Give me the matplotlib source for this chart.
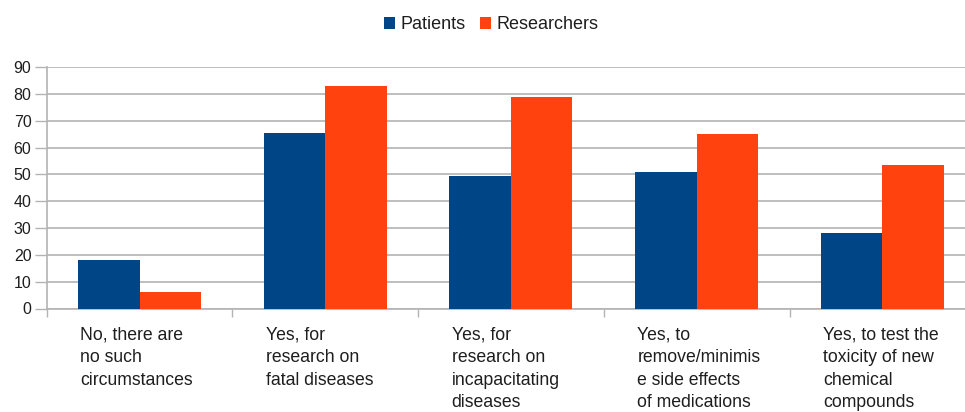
import matplotlib
matplotlib.use("Agg")
import matplotlib.pyplot as plt
import numpy as np

categories = [
    "No, there are\nno such\ncircumstances",
    "Yes, for\nresearch on\nfatal diseases",
    "Yes, for\nresearch on\nincapacitating\ndiseases",
    "Yes, to\nremove/minimis\ne side effects\nof medications",
    "Yes, to test the\ntoxicity of new\nchemical\ncompounds",
]
patients = [18, 65.5, 49.5, 51, 28]
researchers = [6, 83, 79, 65, 53.5]
series_names = ["Patients", "Researchers"]
yticks = list(range(0, 100, 10))

blue = "#004586"
orange = "#ff420e"
text_color = "#1e1e1e"

fig = plt.figure(figsize=(9.65, 4.12), dpi=100)
# plot area runs slightly past the right edge of the canvas
ax = fig.add_axes([46.7 / 965, (412 - 308.5) / 412, 928.5 / 965, (308.5 - 67) / 412])

x = np.arange(len(categories))
w = 0.331
ax.bar(x - w / 2, patients, w, color=blue, label=series_names[0], zorder=3)
ax.bar(x + w / 2, researchers, w, color=orange, label=series_names[1], zorder=3)

ax.set_xlim(-0.5, len(categories) - 0.5)
ax.set_ylim(0, 90)
ax.set_yticks(yticks)
ax.yaxis.grid(True, color="#b3b3b3", linewidth=1.2, zorder=0)
ax.tick_params(axis="y", length=9, width=1, color="#b3b3b3", labelsize=11.5,
               labelcolor=text_color, pad=2)
for lbl in ax.get_yticklabels():
    lbl.set_fontfamily("Liberation Sans")

# category boundaries as x ticks, labels drawn separately
ax.set_xticks(np.arange(len(categories) + 1) - 0.5)
ax.set_xticklabels([])
ax.tick_params(axis="x", length=6, width=1, color="#b3b3b3", direction="out")

for s in ["top", "right"]:
    ax.spines[s].set_visible(False)
for s in ["left", "bottom"]:
    ax.spines[s].set_color("#b3b3b3")
    ax.spines[s].set_linewidth(1.2)

for i, cat in enumerate(categories):
    ax.annotate(cat, xy=(i - w, 0), xycoords="data", xytext=(1.5, -13),
                textcoords="offset points", ha="left", va="top",
                fontsize=12.7, family="Liberation Sans", color=text_color,
                linespacing=1.43, annotation_clip=False)

leg = fig.legend(loc="upper center", bbox_to_anchor=(0.509, 1.0), ncol=2,
                 frameon=False, handlelength=0.6, handleheight=0.6,
                 handletextpad=0.3, columnspacing=0.8,
                 prop={"family": "Liberation Sans", "size": 13})
for t in leg.get_texts():
    t.set_color(text_color)

fig.savefig("out.png", dpi=100, facecolor="white")
